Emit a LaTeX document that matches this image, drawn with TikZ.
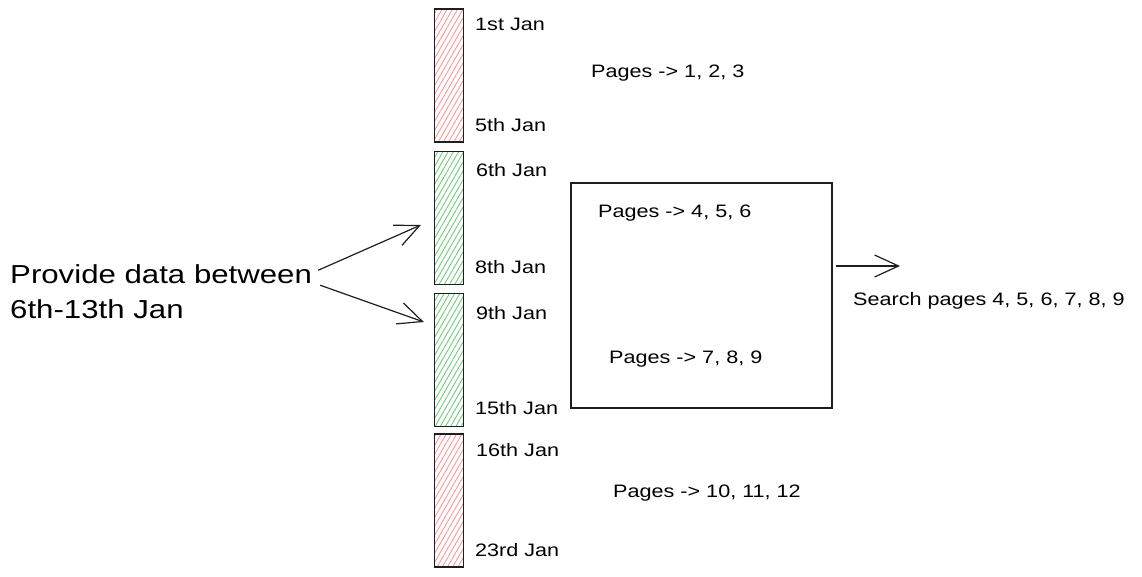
\documentclass[tikz,border=0pt]{standalone}
\usepackage{fontspec}
\setmainfont{Liberation Sans}[FakeStretch=1.2]
\usetikzlibrary{arrows.meta,patterns.meta}
\definecolor{hatchred}{RGB}{255,150,150}
\definecolor{hatchgreen}{RGB}{110,205,125}
\definecolor{ink}{RGB}{30,30,30}

\begin{document}
\begin{tikzpicture}[x=1pt, y=-1pt,
    >={Straight Barb[length=24pt,width=22pt]},
    bar/.style={draw=ink, line width=1.3pt, minimum width=29pt,
      minimum height=133pt, inner sep=0pt},
    redbar/.style={bar, pattern={Lines[angle=60,distance=4.5pt,line width=0.9pt]},
      pattern color=hatchred},
    greenbar/.style={bar, pattern={Lines[angle=60,distance=4.5pt,line width=0.9pt]},
      pattern color=hatchgreen},
    date/.style={anchor=base west, inner sep=0pt, font=\fontsize{18}{20}\selectfont},
    flow/.style={->, draw=ink, line width=1.2pt}]
  \useasboundingbox (0,0) rectangle (1142,577);

  % Blocchi di date
  \node[redbar]   (jan1)  at (449,75.5)  {};
  \node[greenbar] (jan6)  at (449,218)   {};
  \node[greenbar] (jan9)  at (449,360)   {};
  \node[redbar]   (jan16) at (449,500.5) {};

  % Etichette delle date
  \node[date] (d1)  at (475,30.5)  {1st Jan};
  \node[date] (d5)  at (475,131.5) {5th Jan};
  \node[date] (d6)  at (476,176.5) {6th Jan};
  \node[date] (d8)  at (475,273.5) {8th Jan};
  \node[date] (d9)  at (476,319.5) {9th Jan};
  \node[date] (d15) at (475,414.5) {15th Jan};
  \node[date] (d16) at (476,456.5) {16th Jan};
  \node[date] (d23) at (475,556.5) {23rd Jan};

  % Pagine
  \node[date] (p1)  at (591,78)  {Pages -> 1, 2, 3};
  \node[draw=ink, line width=1.3pt, minimum width=261pt, minimum height=225pt]
    (pagebox) at (701.5,295.5) {};
  \node[date] (p4)  at (598,218) {Pages -> 4, 5, 6};
  \node[date] (p7)  at (609,363) {Pages -> 7, 8, 9};
  \node[date] (p10) at (613,497) {Pages -> 10, 11, 12};

  % Richiesta
  \node[anchor=north west, inner sep=0pt, align=left,
    font=\fontsize{26}{35}\selectfont] (ask) at (10,264)
    {Provide data between\\6th-13th Jan};
  \draw[flow] ([xshift=6pt,yshift=21pt]ask.east) -- ([xshift=-13pt,yshift=-7pt]jan6.west);
  \draw[flow] ([xshift=8pt,yshift=6pt]ask.east) -- ([xshift=-10pt,yshift=38pt]jan9.west);

  % Risultato
  \coordinate (out) at (900,266);
  \draw[flow] ([xshift=3pt,yshift=29.5pt]pagebox.east) -- (out);
  \node[date] (search) at (853,305) {Search pages 4, 5, 6, 7, 8, 9};
\end{tikzpicture}
\end{document}
